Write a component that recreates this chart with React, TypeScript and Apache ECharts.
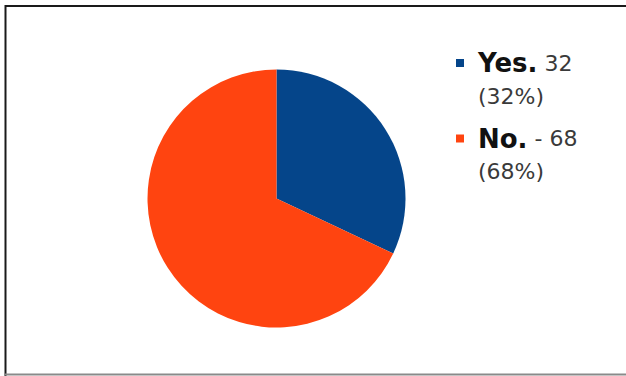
import React, { useEffect, useRef } from "react";
import * as echarts from "echarts";

const categories = ["Yes.", "No."];
const values = [32, 68];
const valueTexts = ["32", "- 68"];
const colors = ["#05458a", "#ff4410"];

export default function App() {
  const ref = useRef<HTMLDivElement>(null);
  useEffect(() => {
    const chart = echarts.init(ref.current!, undefined, { renderer: "svg" });
    const total = values.reduce((a, b) => a + b, 0);
    chart.setOption({
      animation: false,
      backgroundColor: "#ffffff",
      graphic: [
        { type: "line", shape: { x1: 5, y1: 6, x2: 626, y2: 6 }, style: { stroke: "#1a1a1a", lineWidth: 2 } },
        { type: "line", shape: { x1: 5.5, y1: 5, x2: 5.5, y2: 376 }, style: { stroke: "#1a1a1a", lineWidth: 2 } },
        { type: "line", shape: { x1: 5, y1: 374.5, x2: 626, y2: 374.5 }, style: { stroke: "#8a8a8a", lineWidth: 2 } },
      ],
      legend: {
        orient: "vertical",
        left: 456,
        top: 13.5,
        padding: 0,
        itemGap: -23.5,
        icon: "rect",
        itemWidth: 8,
        itemHeight: 8,
        selectedMode: false,
        data: categories,
        formatter: (name: string) => {
          const i = categories.indexOf(name);
          const pct = Math.round((values[i] / total) * 100);
          return `{b|${name}} ${valueTexts[i]}\n(${pct}%)`;
        },
        textStyle: {
          fontFamily: "DejaVu Sans",
          fontSize: 22,
          color: "#3a3a3a",
          lineHeight: 33,
          padding: [33, 0, 0, 9],
          rich: {
            b: {
              fontFamily: "DejaVu Sans",
              fontWeight: "bold",
              fontSize: 26,
              color: "#111111",
              lineHeight: 33,
            },
          },
        },
      },
      series: [
        {
          type: "pie",
          center: [276.5, 198.5],
          radius: 129,
          startAngle: 90,
          clockwise: true,
          label: { show: false },
          labelLine: { show: false },
          itemStyle: { borderWidth: 0 },
          emphasis: { disabled: true },
          data: categories.map((c, i) => ({
            name: c,
            value: values[i],
            itemStyle: { color: colors[i] },
          })),
        },
      ],
    });
    return () => chart.dispose();
  }, []);
  return (
    <div
      ref={ref}
      style={{ position: "fixed", left: 0, top: 0, width: 626, height: 376 }}
    />
  );
}
